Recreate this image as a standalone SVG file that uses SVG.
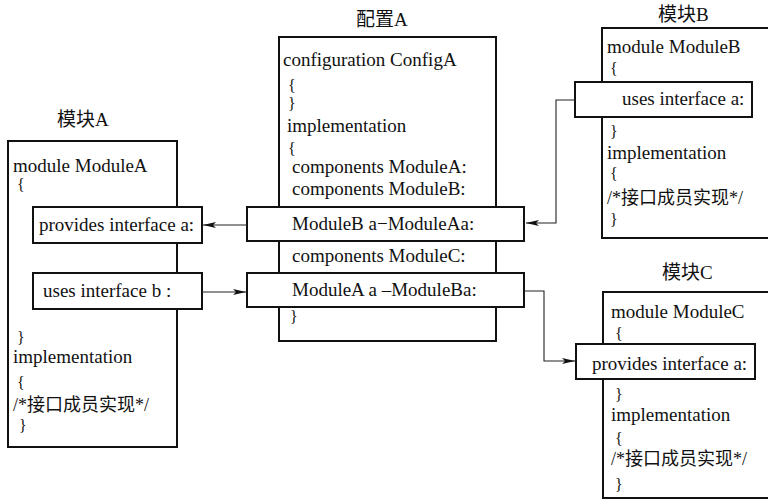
<svg xmlns="http://www.w3.org/2000/svg" width="768" height="500" viewBox="0 0 768 500">
<style>
  text { font-family: "Liberation Serif", "Noto Sans CJK SC", serif; font-size: 19px; fill: #111; }
  .br { font-size: 16px; }
  .cjk { font-size: 18px; }
  .box { fill: #fff; stroke: #111; stroke-width: 2; }
  .conn { fill: none; stroke: #222; stroke-width: 1.1; }
</style>
<defs>
  <marker id="arr" markerUnits="userSpaceOnUse" markerWidth="14" markerHeight="8" refX="13" refY="4" orient="auto">
    <path d="M0,1 L13,4 L0,7 L3,4 z" fill="#111"/>
  </marker>
</defs>
<rect width="768" height="500" fill="#fff"/>

<g id="moduleA">
  <text x="57" y="126">模块A</text>
  <rect class="box" x="8" y="141" width="169" height="306"/>
  <text x="13" y="172">module ModuleA</text>
  <text class="br" x="17" y="190">{</text>
  <rect class="box" x="33" y="207" width="169" height="36"/>
  <text x="39" y="231">provides interface a:</text>
  <rect class="box" x="33" y="273" width="169" height="36"/>
  <text x="43" y="297">uses interface b :</text>
  <text class="br" x="17" y="343">}</text>
  <text x="13" y="363">implementation</text>
  <text class="br" x="17" y="388">{</text>
  <text class="cjk" x="13" y="411">/*接口成员实现*/</text>
  <text class="br" x="19" y="431">}</text>
</g>

<g id="configA">
  <text x="356" y="26">配置A</text>
  <rect class="box" x="279" y="37" width="217" height="304"/>
  <text x="283" y="66">configuration ConfigA</text>
  <text class="br" x="288" y="91">{</text>
  <text class="br" x="288" y="109">}</text>
  <text x="287" y="132">implementation</text>
  <text class="br" x="288" y="154">{</text>
  <text x="292" y="173">components ModuleA:</text>
  <text x="292" y="195">components ModuleB:</text>
  <rect class="box" x="247" y="207" width="277" height="34"/>
  <text x="292" y="230">ModuleB a−ModuleAa:</text>
  <text x="292" y="262">components ModuleC:</text>
  <rect class="box" x="247" y="273" width="277" height="34"/>
  <text x="292" y="296">ModuleA a –ModuleBa:</text>
  <text class="br" x="290" y="322">}</text>
</g>

<g id="moduleB">
  <text x="658" y="21">模块B</text>
  <rect class="box" x="602" y="28" width="190" height="210"/>
  <text x="607" y="53">module ModuleB</text>
  <text class="br" x="610" y="74">{</text>
  <rect class="box" x="575" y="82" width="177" height="35"/>
  <text x="622" y="105">uses interface a:</text>
  <text class="br" x="610" y="137">}</text>
  <text x="607" y="159">implementation</text>
  <text class="br" x="610" y="179">{</text>
  <text class="cjk" x="607" y="204">/*接口成员实现*/</text>
  <text class="br" x="610" y="225">}</text>
</g>

<g id="moduleC">
  <text x="662" y="279">模块C</text>
  <rect class="box" x="603" y="292" width="190" height="206"/>
  <text x="611" y="318">module ModuleC</text>
  <text class="br" x="615" y="339">{</text>
  <rect class="box" x="576" y="344" width="179" height="35"/>
  <text x="592" y="370">provides interface a:</text>
  <text class="br" x="615" y="400">}</text>
  <text x="611" y="421">implementation</text>
  <text class="br" x="615" y="444">{</text>
  <text class="cjk" x="611" y="465">/*接口成员实现*/</text>
  <text class="br" x="615" y="490">}</text>
</g>

<g id="connectors">
  <path class="conn" d="M247,225 H203" marker-end="url(#arr)"/>
  <path class="conn" d="M202,292 H246" marker-end="url(#arr)"/>
  <path class="conn" d="M575,100 H556 V223 H526" marker-end="url(#arr)"/>
  <path class="conn" d="M524,291 H544 V361 H575" marker-end="url(#arr)"/>
</g>
</svg>
